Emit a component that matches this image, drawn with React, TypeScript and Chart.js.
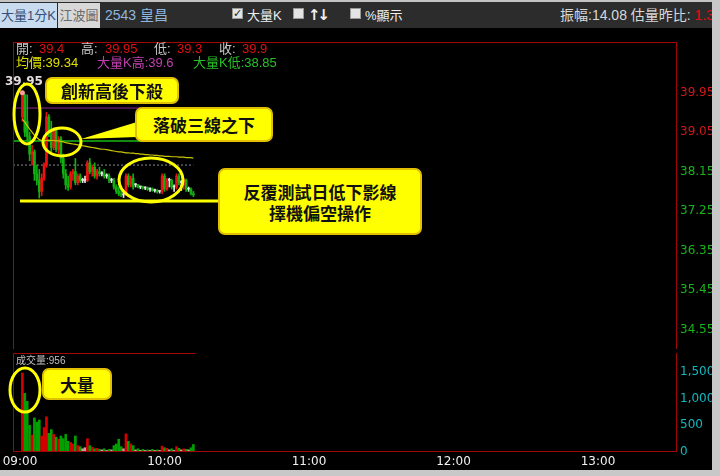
import React, { useEffect, useRef } from 'react';
import { Chart, registerables } from 'chart.js';
Chart.register(...registerables);

// ---- data (1-minute bars starting 09:01) ----
const opens = [39.4,39.9,39.3,38.95,38.55,38.6,38.1,37.95,37.7,38.0,38.3,39.4,39.05,38.7,39.1,38.65,38.9,38.45,38.1,37.85,37.8,38.1,38.15,37.9,38.05,37.95,37.95,37.95,38.35,38.15,38.25,38.05,38.15,38.1,38.1,38.05,38.05,37.95,37.95,37.8,37.7,37.65,37.62,37.62,38.05,37.85,38.0,37.85,37.85,37.8,37.8,37.78,37.78,37.75,37.75,37.72,37.72,37.7,37.7,38.05,37.75,37.95,37.95,37.8,37.8,38.05,37.9,37.85,37.95,37.75,37.75,37.65];
const highs = [39.95,39.92,39.9,39.05,38.75,38.65,38.3,38.2,38.1,38.35,39.5,39.45,39.3,39.15,39.15,38.95,38.95,38.55,38.2,38.05,38.15,38.2,38.45,38.1,38.1,38.0,38.05,38.4,38.45,38.3,38.35,38.2,38.25,38.15,38.2,38.1,38.1,38.0,38.0,37.85,37.8,37.75,37.7,38.1,38.1,38.05,38.1,37.88,37.86,37.82,37.82,37.8,37.8,37.78,37.78,37.75,37.74,37.72,38.1,38.1,38.0,38.0,37.98,37.85,38.1,38.1,37.95,38.0,37.98,37.8,37.78,37.7];
const lows = [39.3,38.95,38.85,38.4,38.3,37.95,37.85,37.55,37.6,37.95,38.25,38.95,38.6,38.65,38.6,38.55,38.35,38.0,37.75,37.72,37.75,37.95,37.85,37.85,37.9,37.9,37.9,37.92,38.1,38.05,38.0,37.98,38.05,38.05,38.0,38.0,37.9,37.9,37.75,37.65,37.6,37.58,37.56,37.6,37.8,37.8,37.75,37.8,37.78,37.76,37.75,37.74,37.72,37.7,37.7,37.68,37.66,37.66,37.65,37.7,37.72,37.8,37.75,37.7,37.75,37.85,37.72,37.75,37.7,37.7,37.62,37.58];
const closes = [39.9,39.05,38.95,38.55,38.6,38.1,37.95,37.7,38.0,38.3,39.4,39.05,38.7,39.1,38.65,38.9,38.45,38.1,37.85,37.8,38.1,38.15,37.9,38.05,37.95,37.95,37.95,38.35,38.15,38.25,38.05,38.15,38.1,38.1,38.05,38.05,37.95,37.95,37.8,37.7,37.65,37.62,37.62,38.05,37.85,38.0,37.8,37.85,37.8,37.8,37.78,37.78,37.75,37.75,37.72,37.72,37.7,37.7,38.05,37.75,37.95,37.95,37.8,37.8,38.05,37.9,37.9,37.95,37.75,37.75,37.65,37.62];
const volumes = [1480,1100,950,500,320,640,560,600,300,460,660,350,420,330,280,240,300,250,330,200,180,150,300,120,100,60,80,250,120,90,60,70,50,40,60,30,50,40,120,150,240,100,60,340,200,150,120,40,60,30,50,30,40,30,50,30,40,30,110,80,70,40,60,30,100,70,40,60,50,40,80,140];
const avgPrices = [39.34,39.28,39.2,39.12,39.05,38.98,38.93,38.88,38.86,38.85,38.86,38.87,38.86,38.86,38.85,38.85,38.84,38.83,38.81,38.8,38.79,38.78,38.77,38.76,38.75,38.74,38.73,38.72,38.71,38.7,38.69,38.68,38.67,38.66,38.66,38.65,38.64,38.63,38.62,38.61,38.6,38.6,38.59,38.58,38.58,38.57,38.57,38.56,38.56,38.55,38.55,38.54,38.54,38.53,38.53,38.52,38.52,38.51,38.51,38.5,38.5,38.5,38.49,38.49,38.49,38.48,38.48,38.48,38.47,38.47,38.47,38.46];
const priceTicks = [34.55, 35.45, 36.35, 37.25, 38.15, 39.05, 39.95];
const volumeTicks = [0, 500, 1000, 1500];
const timeTicks = [0, 60, 120, 180, 240];
const timeLabels = ['09:00', '10:00', '11:00', '12:00', '13:00'];
const refPrice = 38.3;
const bigKHigh = 39.6;
const bigKLow = 38.85;
const dayHigh = 39.95;

const RED = '#ee1111';
const GREEN = '#11b011';
const WHITE = '#e6e6e6';
const FRAME = '#a00808';
const X_MIN = -2.9;
const X_MAX = 272.4;

function candleColor(i: number) {
  return closes[i] > opens[i] ? RED : closes[i] < opens[i] ? GREEN : WHITE;
}
function volColor(i: number) {
  return closes[i] > opens[i] ? '#d40000' : closes[i] < opens[i] ? '#00a000' : '#c8a0a0';
}

function framePlugin(sides: { top?: boolean; left?: boolean; right?: boolean; bottom?: boolean; sep?: boolean }) {
  return {
    id: 'frame',
    afterDraw(chart: any) {
      const { ctx, chartArea: a } = chart;
      const l = Math.round(a.left) + 0.5;
      const r = Math.round(a.right) + 0.5;
      const t = Math.round(a.top) + 0.5;
      const b = Math.round(a.bottom) - 0.5;
      ctx.save();
      ctx.strokeStyle = FRAME;
      ctx.lineWidth = 1;
      ctx.beginPath();
      if (sides.top) { ctx.moveTo(l, t); ctx.lineTo(r, t); }
      if (sides.left) { ctx.moveTo(l, a.top); ctx.lineTo(l, a.bottom); }
      if (sides.right) { ctx.moveTo(r, a.top); ctx.lineTo(r, a.bottom); }
      if (sides.bottom) { ctx.moveTo(l, b); ctx.lineTo(r, b); }
      if (sides.sep) {
        const xe = chart.scales.x.getPixelForValue(closes.length) + 2;
        ctx.moveTo(l, t); ctx.lineTo(xe, t);
      }
      ctx.stroke();
      ctx.restore();
    },
  };
}

export default function App() {
  const priceRef = useRef<HTMLCanvasElement>(null);
  const volRef = useRef<HTMLCanvasElement>(null);

  useEffect(() => {
    const mins = closes.map((_, i) => i + 1);
    const last = mins[mins.length - 1];
    const colors = closes.map((_, i) => candleColor(i));

    const price = new Chart(priceRef.current!, {
      type: 'bar',
      data: {
        datasets: [
          {
            type: 'scatter',
            data: [{ x: mins[highs.indexOf(dayHigh)], y: dayHigh }],
            pointRadius: 2.5,
            pointBackgroundColor: '#ff9a9a',
            pointBorderWidth: 0,
          } as any,
          {
            type: 'line',
            data: avgPrices.map((v, i) => ({ x: mins[i], y: v })),
            borderColor: '#c8c400',
            borderWidth: 1.2,
            pointRadius: 0,
            tension: 0,
          },
          {
            type: 'bar',
            data: mins.map((m, i) => ({ x: m, y: [opens[i], closes[i]] })),
            backgroundColor: colors,
            barThickness: 2,
            minBarLength: 1,
            grouped: false,
          } as any,
          {
            type: 'bar',
            data: mins.map((m, i) => ({ x: m, y: [lows[i], highs[i]] })),
            backgroundColor: colors,
            barThickness: 1,
            grouped: false,
          } as any,
          {
            type: 'line',
            data: [{ x: X_MIN, y: bigKLow }, { x: last, y: bigKLow }],
            borderColor: '#16b816',
            borderWidth: 1.5,
            pointRadius: 0,
          },
          {
            type: 'line',
            data: [{ x: X_MIN, y: bigKHigh }, { x: last, y: bigKHigh }],
            borderColor: '#902890',
            borderWidth: 1,
            pointRadius: 0,
          },
          {
            type: 'line',
            data: [{ x: X_MIN, y: refPrice }, { x: last, y: refPrice }],
            borderColor: '#8a8a8a',
            borderWidth: 1,
            borderDash: [2, 2],
            pointRadius: 0,
          },
        ],
      },
      options: {
        animation: false,
        responsive: false,
        maintainAspectRatio: false,
        devicePixelRatio: 1,
        layout: { padding: { left: 13, top: 0, right: 0, bottom: 0 } },
        plugins: { legend: { display: false }, tooltip: { enabled: false } },
        scales: {
          x: { type: 'linear', min: X_MIN, max: X_MAX, display: false, offset: false },
          y: {
            type: 'linear',
            position: 'right',
            min: 34.106,
            max: 41.106,
            afterBuildTicks: (s: any) => { s.ticks = priceTicks.map((v) => ({ value: v })); },
            afterFit: (s: any) => { s.width = 36; s.paddingTop = 0; s.paddingBottom = 0; },
            grid: { display: false, drawTicks: false },
            border: { display: false },
            ticks: {
              padding: 4,
              font: { family: 'DejaVu Sans', size: 12 },
              color: (c: any) => (c.tick && c.tick.value > refPrice ? '#d01818' : '#18b418'),
              callback: (v: any) => Number(v).toFixed(2),
            },
          },
        },
      },
      plugins: [framePlugin({ top: true, left: true, right: true })],
    } as any);

    const vol = new Chart(volRef.current!, {
      type: 'bar',
      data: {
        datasets: [
          {
            data: mins.map((m, i) => ({ x: m, y: volumes[i] })),
            backgroundColor: closes.map((_, i) => volColor(i)),
            barThickness: 2,
            grouped: false,
          } as any,
        ],
      },
      options: {
        animation: false,
        responsive: false,
        maintainAspectRatio: false,
        devicePixelRatio: 1,
        layout: { padding: { left: 13, top: 0, right: 0, bottom: 0 } },
        plugins: { legend: { display: false }, tooltip: { enabled: false } },
        scales: {
          x: {
            type: 'linear',
            min: X_MIN,
            max: X_MAX,
            offset: false,
            afterBuildTicks: (s: any) => { s.ticks = timeTicks.map((v) => ({ value: v })); },
            afterFit: (s: any) => { s.height = 17; s.paddingLeft = 0; s.paddingRight = 0; },
            grid: { display: false, drawTicks: false },
            border: { display: false },
            ticks: {
              padding: 3,
              maxRotation: 0,
              autoSkip: false,
              font: { family: 'DejaVu Sans', size: 12 },
              color: '#f0f0f0',
              callback: (v: any) => timeLabels[timeTicks.indexOf(Number(v))],
            },
          },
          y: {
            type: 'linear',
            position: 'right',
            min: 0,
            max: 1856,
            afterBuildTicks: (s: any) => { s.ticks = volumeTicks.map((v) => ({ value: v })); },
            afterFit: (s: any) => { s.width = 36; s.paddingTop = 0; s.paddingBottom = 0; },
            grid: { display: false, drawTicks: false },
            border: { display: false },
            ticks: {
              padding: 4,
              font: { family: 'DejaVu Sans', size: 12 },
              color: '#10b8c0',
              callback: (v: any) => Number(v).toLocaleString('en-US'),
            },
          },
        },
      },
      plugins: [framePlugin({ left: true, right: true, bottom: true, sep: true })],
    } as any);

    return () => { price.destroy(); vol.destroy(); };
  }, []);

  const ui = '"Liberation Sans", "Noto Sans CJK TC", sans-serif';
  const cjkBold = '"Noto Sans CJK TC", sans-serif';
  const abs = (l: number, t: number, extra: any = {}) => ({ position: 'absolute' as const, left: l, top: t, ...extra });
  const box = (l: number, t: number, w: number, h: number) => ({
    position: 'absolute' as const, left: l, top: t, width: w, height: h, boxSizing: 'border-box' as const,
    background: '#ffff00', border: '2px solid #e0c000', borderRadius: 7,
    display: 'flex', flexDirection: 'column' as const, alignItems: 'center', justifyContent: 'center',
    fontFamily: cjkBold, fontWeight: 700, fontSize: 17, color: '#111', lineHeight: '21px',
  });
  const chk = (l: number, checked: boolean) => (
    <div style={abs(l, 8, { width: 11, height: 11, background: '#e4e4e4', border: '1px solid #999', boxSizing: 'border-box', fontSize: 11, lineHeight: '9px', color: '#222', textAlign: 'center', fontFamily: 'DejaVu Sans', fontWeight: 700 })}>{checked ? '✓' : ''}</div>
  );

  return (
    <div style={{ position: 'fixed', left: 0, top: 0, width: 720, height: 476, background: '#000', overflow: 'hidden', fontFamily: ui }}>
      {/* top bar */}
      <div style={abs(0, 0, { width: 720, height: 28, background: '#2c2c2c' })} />
      <div style={abs(0, 3, { width: 57, height: 25, background: '#c9dbee', color: '#34507a', fontSize: 13, lineHeight: '25px', textAlign: 'center' })}>大量1分K</div>
      <div style={abs(58, 3, { width: 42, height: 25, background: '#d8d8d8', color: '#6a6a6a', fontSize: 13, lineHeight: '25px', textAlign: 'center' })}>江波圖</div>
      <div style={abs(105, 3, { height: 25, color: '#8fb6de', fontSize: 14, lineHeight: '25px' })}>2543 皇昌</div>
      {chk(232, true)}
      <div style={abs(247, 3, { color: '#f0f0f0', fontSize: 13, lineHeight: '25px' })}>大量K</div>
      {chk(293, false)}
      <div style={abs(308, 3, { color: '#f0f0f0', fontSize: 15, lineHeight: '25px', fontWeight: 700, letterSpacing: -3, fontFamily: 'DejaVu Sans' })}>↑↓</div>
      {chk(350, false)}
      <div style={abs(365, 3, { color: '#f0f0f0', fontSize: 13, lineHeight: '25px' })}>%顯示</div>
      <div style={abs(560, 3, { color: '#d8d8d8', fontSize: 14, lineHeight: '25px', whiteSpace: 'nowrap' })}>振幅:14.08 估量昨比: <span style={{ color: '#e01010' }}>1.38</span></div>

      {/* charts */}
      <canvas ref={priceRef} width={712} height={315} style={abs(0, 38, { width: 712, height: 315 })} />
      <canvas ref={volRef} width={712} height={116} style={abs(0, 353, { width: 712, height: 116 })} />

      {/* info rows */}
      <div style={abs(16, 41, { fontSize: 13, lineHeight: '16px', whiteSpace: 'nowrap', color: '#c8c8c8' })}>開:</div>
      <div style={abs(39, 41, { fontSize: 13, lineHeight: '16px', color: '#e01010' })}>39.4</div>
      <div style={abs(81, 41, { fontSize: 13, lineHeight: '16px', color: '#c8c8c8' })}>高:</div>
      <div style={abs(105, 41, { fontSize: 13, lineHeight: '16px', color: '#e01010' })}>39.95</div>
      <div style={abs(154, 41, { fontSize: 13, lineHeight: '16px', color: '#c8c8c8' })}>低:</div>
      <div style={abs(177, 41, { fontSize: 13, lineHeight: '16px', color: '#e01010' })}>39.3</div>
      <div style={abs(219, 41, { fontSize: 13, lineHeight: '16px', color: '#c8c8c8' })}>收:</div>
      <div style={abs(242, 41, { fontSize: 13, lineHeight: '16px', color: '#e01010' })}>39.9</div>
      <div style={abs(16, 55, { fontSize: 13, lineHeight: '16px', color: '#e0e000', whiteSpace: 'nowrap' })}>均價:39.34</div>
      <div style={abs(97, 55, { fontSize: 13, lineHeight: '16px', color: '#c040b0', whiteSpace: 'nowrap' })}>大量K高:39.6</div>
      <div style={abs(193, 55, { fontSize: 13, lineHeight: '16px', color: '#28c028', whiteSpace: 'nowrap' })}>大量K低:38.85</div>
      <div style={abs(5, 73, { fontSize: 12, lineHeight: '16px', color: '#e4dcdc', fontFamily: 'DejaVu Sans', fontWeight: 700 })}>39.95</div>
      <div style={abs(16, 354, { fontSize: 10, lineHeight: '13px', color: '#c0c0c0', whiteSpace: 'nowrap' })}>成交量:956</div>

      {/* annotations */}
      <svg width={720} height={476} style={abs(0, 0, { pointerEvents: 'none' })}>
        <g fill="none" stroke="#ffff00" strokeWidth={3}>
          <ellipse cx={27} cy={114} rx={13} ry={30} />
          <ellipse cx={62} cy={142} rx={19} ry={14} />
          <ellipse cx={151} cy={180} rx={32} ry={22} />
          <ellipse cx={25} cy={390} rx={15} ry={22} />
          <line x1={20} y1={201} x2={220} y2={201} />
        </g>
        <polygon points="81,139 137,122 137,137" fill="#ffff00" />
      </svg>
      <div style={box(45, 77, 134, 27)}>創新高後下殺</div>
      <div style={box(135, 107, 138, 35)}>落破三線之下</div>
      <div style={box(218, 168, 204, 67)}><div>反覆測試日低下影線</div><div>擇機偏空操作</div></div>
      <div style={box(42, 368, 70, 32)}>大量</div>

      {/* light borders */}
      <div style={abs(0, 0, { width: 720, height: 2, background: '#c4c4c4' })} />
      <div style={abs(712, 0, { width: 8, height: 476, background: '#c8c8c8' })} />
      <div style={abs(0, 470, { width: 720, height: 6, background: '#c8c8c8' })} />
    </div>
  );
}
